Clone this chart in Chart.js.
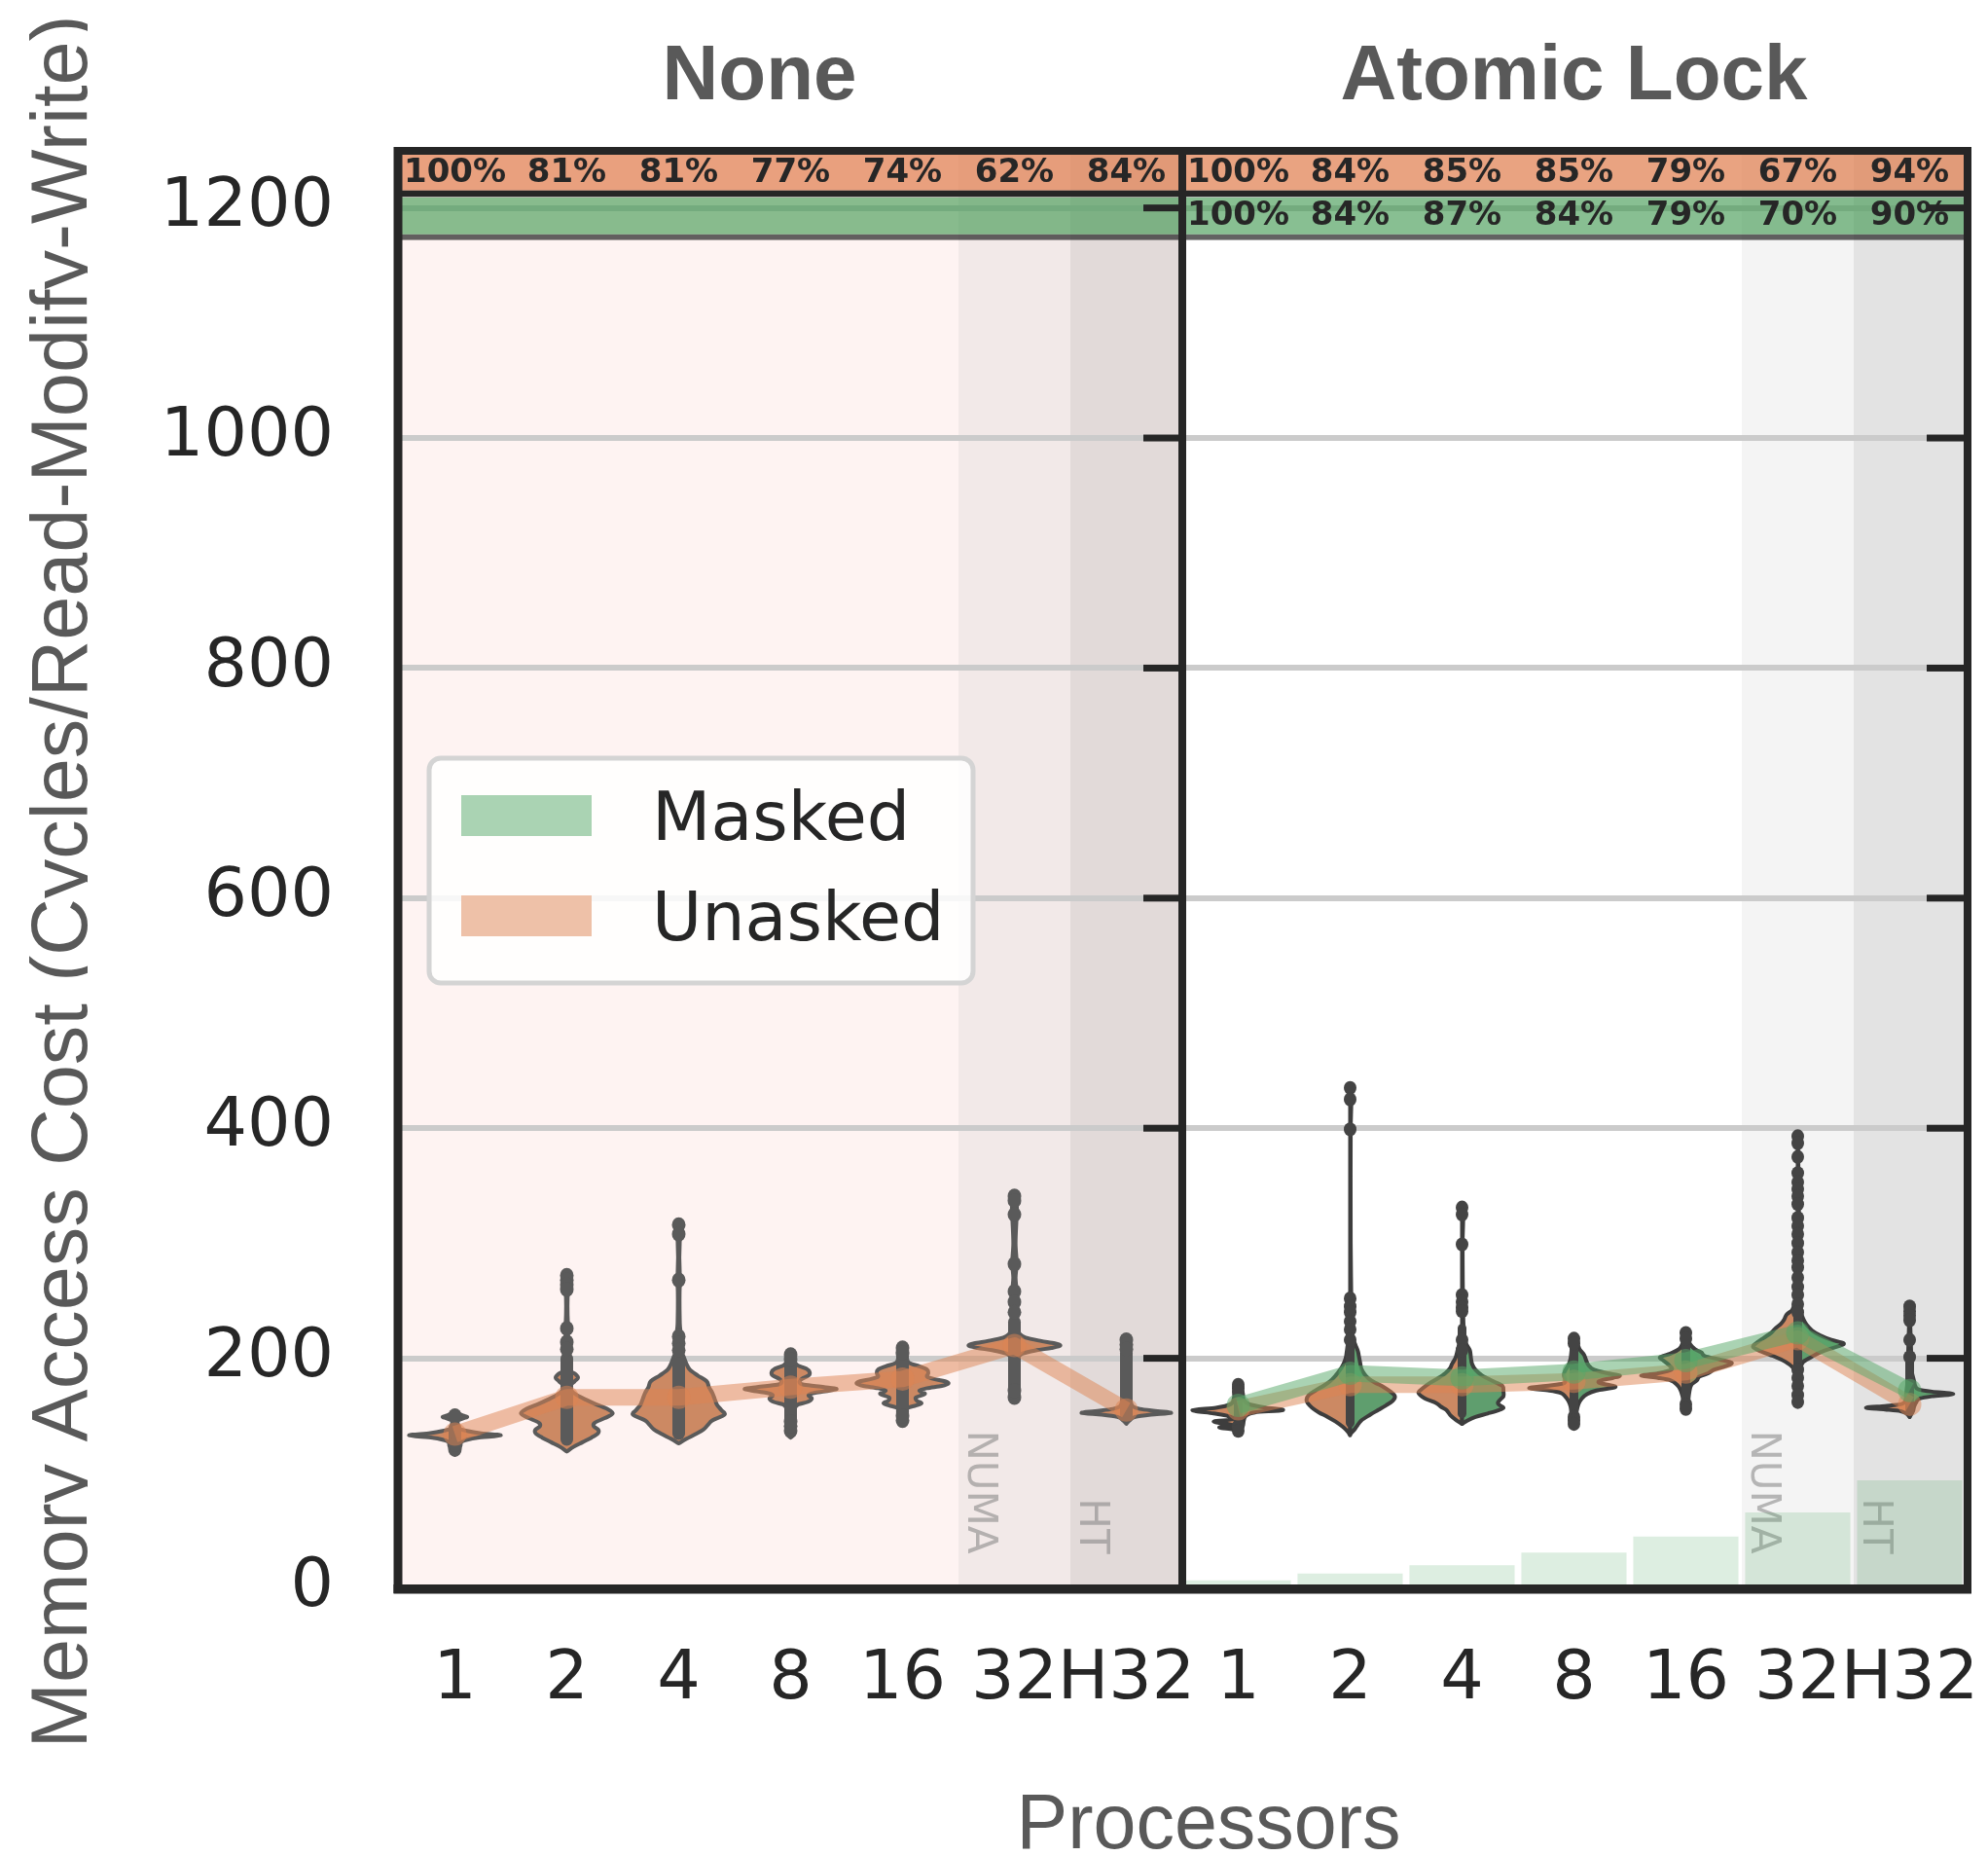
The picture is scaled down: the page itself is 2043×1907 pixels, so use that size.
<!DOCTYPE html>
<html><head><meta charset="utf-8">
<script src="https://cdn.jsdelivr.net/npm/chart.js@4.4.1/dist/chart.umd.min.js"></script>
<style>html,body{margin:0;padding:0;background:#ffffff;}#c{display:block;}</style>
</head><body>
<canvas id="c" width="2043" height="1907" style="width:2043px;height:1907px"></canvas>
<script>
// ---------------- DATA ----------------
const categories = ['1', '2', '4', '8', '16', '32', 'H32'];
const panelTitles = ['None', 'Atomic Lock'];
const regionLabels = ['', '', '', '', '', 'NUMA', 'HT'];
const yAxisTitle = 'Memory Access Cost (Cycles/Read-Modify-Write)';
const xAxisTitle = 'Processors';
const legendNames = ['Masked', 'Unasked'];

const noneUnmaskedPct = [100, 81, 81, 77, 74, 62, 84];
const lockUnmaskedPct = [100, 84, 85, 85, 79, 67, 94];
const lockMaskedPct   = [100, 84, 87, 84, 79, 70, 90];

const noneUnmaskedMean = [134, 166, 166, 175, 182, 211, 155];
const lockUnmaskedMean = [156, 177, 177, 180, 188, 217, 160];
const lockMaskedMean   = [159, 187, 183, 188, 198, 222, 172];

const lockBarValues = [7, 13, 20, 31, 45, 66, 94];

const unmaskedBandRange = [1209.5, 1253];
const maskedBandRange   = [1172, 1209.5];

// violin density profiles: [value, half-width as fraction of a category]
const noneUnmaskedViolins = [
  [[116,0],[119,.03],[124,.05],[128,.07],[131,.2],[133,.41],[135,.22],[138,.06],[141,.03],[146,.03],[148,.08],[149,.11],[150,.08],[152,.03],[153,0]],
  [[119,0],[123,.06],[127,.14],[131,.22],[135,.28],[138,.28],[141,.24],[144,.25],[148,.34],[152,.41],[156,.36],[160,.26],[164,.17],[168,.09],[172,.04],[176,.03],[180,.07],[183,.1],[186,.08],[189,.03],[195,.02],[205,.025],[212,.015],[222,.01],[226,.025],[230,.01],[258,.01],[264,.035],[270,.035],[276,0]],
  [[126,0],[130,.07],[134,.15],[138,.22],[142,.26],[146,.3],[151,.41],[155,.38],[160,.34],[165,.32],[170,.3],[175,.27],[180,.25],[185,.17],[190,.1],[195,.07],[200,.05],[205,.03],[210,.03],[215,.025],[220,.02],[230,.01],[264,.01],[268,.03],[272,.01],[304,.01],[308,.03],[312,.015],[316,0]],
  [[131,0],[134,.03],[140,.03],[146,.03],[152,.035],[157,.04],[160,.07],[162,.15],[165,.19],[168,.16],[170,.22],[172,.35],[173.5,.41],[175,.3],[177,.12],[179,.08],[182,.1],[185,.16],[188,.17],[191,.14],[194,.06],[198,.03],[204,0]],
  [[143,0],[147,.03],[153,.04],[157,.05],[159,.12],[161,.17],[163,.13],[166,.12],[169,.2],[172,.15],[174,.22],[176,.35],[178,.41],[180,.38],[182,.28],[184,.22],[187,.23],[190,.22],[193,.15],[196,.06],[200,.04],[205,.04],[211,0]],
  [[164,0],[168,.02],[175,.025],[185,.025],[195,.025],[200,.03],[204,.07],[207,.2],[209,.33],[211,.41],[213,.36],[215,.24],[218,.1],[221,.05],[225,.03],[232,.025],[240,.02],[250,.015],[258,.02],[270,.01],[282,.02],[300,.01],[325,.02],[337,.02],[341,0]],
  [[143,0],[146,.03],[149,.08],[151,.22],[152.5,.4],[154,.28],[156,.12],[158,.06],[162,.04],[170,.03],[180,.03],[195,.025],[210,.02],[219,0]]
];
const lockUnmaskedViolins = [
  [[134,0],[138,.05],[140,.17],[142,.05],[145,.22],[147,.05],[150,.1],[152,.22],[155,.41],[157,.2],[160,.07],[165,.04],[172,.03],[177,0]],
  [[133,0],[136,.02],[140,.06],[145,.13],[149,.2],[153,.28],[157,.34],[161,.38],[164,.39],[168,.37],[172,.31],[176,.24],[180,.18],[185,.13],[190,.09],[195,.06],[200,.04],[206,.03],[212,.02],[216,0]],
  [[143,0],[146,.05],[150,.1],[155,.14],[158,.19],[161,.23],[165,.33],[170,.39],[174,.35],[179,.28],[183,.21],[187,.15],[191,.11],[195,.09],[200,.06],[207,.04],[215,.02],[222,0]],
  [[142,0],[150,.02],[158,.03],[163,.05],[167,.08],[170,.12],[172,.22],[174,.4],[176,.25],[178,.1],[181,.08],[185,.09],[189,.08],[194,.05],[200,.03],[208,.02],[217,0]],
  [[154,0],[160,.02],[167,.03],[173,.05],[177,.08],[181,.14],[183,.25],[185,.4],[187,.25],[190,.13],[194,.15],[198,.2],[201,.23],[204,.14],[208,.06],[213,.03],[222,0]],
  [[160,0],[168,.02],[180,.02],[190,.03],[195,.08],[199,.15],[202,.22],[206,.33],[210,.4],[214,.36],[218,.3],[222,.24],[226,.2],[230,.15],[234,.12],[238,.1],[242,.05],[250,.02],[260,0]],
  [[149,0],[152,.03],[154,.08],[155.5,.22],[157,.39],[158.5,.22],[160,.08],[163,.04],[170,.03],[180,.02],[200,.015],[245,0]]
];
const lockMaskedViolins = [
  [[136,0],[141,.04],[146,.05],[150,.07],[153,.15],[155,.4],[157,.25],[160,.1],[164,.05],[170,.04],[177,0]],
  [[134,0],[137,.03],[141,.06],[146,.1],[151,.18],[155,.25],[159,.32],[163,.38],[167,.40],[171,.36],[175,.3],[179,.22],[182,.17],[186,.13],[191,.1],[196,.09],[201,.08],[206,.07],[211,.05],[216,.03],[222,.02],[232,.015],[245,.01],[252,.01],[300,.005],[400,.005],[425,.01],[435,0]],
  [[143,0],[146,.05],[149,.12],[152,.23],[155,.33],[157,.37],[159,.34],[161,.32],[164,.34],[167,.37],[171,.37],[176,.36],[180,.28],[185,.18],[190,.12],[195,.09],[200,.08],[207,.07],[212,.04],[218,.02],[240,.01],[300,.005],[325,.01],[331,0]],
  [[142,0],[152,.02],[160,.04],[165,.07],[169,.12],[172,.2],[175,.37],[177,.3],[179,.22],[181,.25],[183,.35],[185,.41],[187,.3],[190,.18],[194,.13],[198,.11],[203,.09],[208,.05],[213,.03],[217,0]],
  [[154,0],[162,.02],[170,.03],[177,.05],[181,.1],[184,.12],[187,.2],[190,.25],[193,.35],[196,.41],[199,.3],[202,.17],[205,.14],[208,.08],[212,.04],[217,.02],[222,0]],
  [[160,0],[170,.02],[185,.025],[193,.03],[197,.05],[201,.12],[205,.2],[208,.28],[211,.38],[213,.41],[216,.3],[220,.2],[224,.13],[229,.08],[234,.05],[240,.03],[260,.015],[300,.01],[340,.01],[370,.005],[393,0]],
  [[149,0],[154,.03],[158,.04],[162,.06],[165,.09],[167,.2],[169,.39],[171,.2],[173,.08],[176,.05],[180,.04],[188,.02],[200,.015],[245,0]]
];
// individual observations drawn as dots, and dense core ranges
const noneUnmaskedPoints = [
  [150,121,125], [272,268,264,260,226,214,208], [316,308,268,219,213,207],
  [203,199,137,141,145], [209,205,146,150], [341,337,325,282,258,249,240,166,172], [216,212,208]
];
const lockPoints = [
  [177,174,171,141,137], [435,425,399,252,245,240,232,225,216], [331,325,299,255,249,244,241,216,207],
  [217,213,149,146,143], [222,217,160,156],
  [393,387,375,361,353,347,341,334,322,315,308,300,292,285,279,270,262,255,247,240,190,183,176,168,162],
  [245,241,237,233,216,201]
];
const noneCoreRanges = [[118,145],[124,205],[129,202],[133,202],[145,209],[164,237],[145,210]];
const lockCoreRanges = [[139,168],[140,235],[148,230],[143,216],[155,220],[165,245],[150,205]];

// ---------------- STYLE ----------------
const INK = '#262626';
const GRAYTXT = '#595959';
const ORANGE_A = 'rgba(221,132,82,0.5)';
const GREEN_A = 'rgba(85,168,104,0.5)';
const VIOLIN_ORANGE = '#cc8963';
const VIOLIN_GREEN = '#5f9e6e';
const shadeColors = ['#fef3f2','#fef3f2','#fef3f2','#fef3f2','#fef3f2','#f2e9e8','#e2dad9',
                     '#ffffff','#ffffff','#ffffff','#ffffff','#ffffff','#f4f4f4','#e3e3e3'];

Chart.defaults.font.family = "'DejaVu Sans'";

const labels = categories.concat(categories);
const pad7 = Array(7).fill(null);

function catWidth(x) { return x.getPixelForValue(1) - x.getPixelForValue(0); }

function spline(ctx, pts, move) {
  const n = pts.length;
  if (move) ctx.moveTo(pts[0][0], pts[0][1]); else ctx.lineTo(pts[0][0], pts[0][1]);
  for (let i = 0; i < n - 1; i++) {
    const p0 = pts[Math.max(i - 1, 0)], p1 = pts[i], p2 = pts[i + 1], p3 = pts[Math.min(i + 2, n - 1)];
    const d01 = Math.abs(p1[1] - p0[1]) || 1e-6, d12 = Math.abs(p2[1] - p1[1]) || 1e-6, d23 = Math.abs(p3[1] - p2[1]) || 1e-6;
    const m1 = (p2[0] - p0[0]) / (d01 + d12), m2 = (p3[0] - p1[0]) / (d12 + d23);
    ctx.bezierCurveTo(p1[0] + m1 * d12 / 3, p1[1] + (p2[1] - p1[1]) / 3,
                      p2[0] - m2 * d12 / 3, p2[1] - (p2[1] - p1[1]) / 3,
                      p2[0], p2[1]);
  }
}

function drawViolinShape(ctx, cx, prof, dirs, w, y, fill, stroke) {
  ctx.beginPath();
  if (dirs.length === 2) {
    const right = prof.map(([v, f]) => [cx + f * w, y.getPixelForValue(v)]);
    const left = prof.slice().reverse().map(([v, f]) => [cx - f * w, y.getPixelForValue(v)]);
    spline(ctx, right, true);
    spline(ctx, left, false);
  } else {
    const side = prof.map(([v, f]) => [cx + dirs[0] * f * w, y.getPixelForValue(v)]);
    spline(ctx, side, true);
  }
  ctx.closePath();
  ctx.fillStyle = fill;
  ctx.fill();
  ctx.lineWidth = 4;
  ctx.lineJoin = 'round';
  ctx.strokeStyle = stroke;
  ctx.stroke();
}

function drawInner(ctx, cx, core, pts, y, color, coreW, r) {
  ctx.fillStyle = color;
  const top = y.getPixelForValue(core[1]), bot = y.getPixelForValue(core[0]);
  ctx.beginPath();
  ctx.roundRect(cx - coreW / 2, top, coreW, bot - top, coreW / 2);
  ctx.fill();
  pts.forEach(v => {
    ctx.beginPath();
    ctx.ellipse(cx, y.getPixelForValue(v), r, r * 1.1, 0, 0, Math.PI * 2);
    ctx.fill();
  });
}

const backgroundPlugin = {
  id: 'panelBackground',
  beforeDraw(chart) {
    const { ctx, chartArea: a, scales: { x } } = chart;
    const w = catWidth(x);
    ctx.save();
    for (let i = 0; i < labels.length; i++) {
      const cx = x.getPixelForValue(i);
      const l = Math.round(cx - w / 2), r = Math.round(cx + w / 2);
      ctx.fillStyle = shadeColors[i];
      ctx.fillRect(l, a.top, r - l, a.bottom - a.top);
    }
    ctx.restore();
  }
};

const violinPlugin = {
  id: 'violins',
  beforeDatasetsDraw(chart) {
    const { ctx, scales: { x, y } } = chart;
    const w = catWidth(x);
    ctx.save();
    // region labels
    ctx.font = "42px 'DejaVu Sans'";
    ctx.fillStyle = 'rgba(128,128,128,0.54)';
    ctx.textAlign = 'right';
    ctx.textBaseline = 'alphabetic';
    for (let p = 0; p < 2; p++) {
      regionLabels.forEach((t, i) => {
        if (!t) return;
        const cx = x.getPixelForValue(p * 7 + i);
        ctx.save();
        ctx.translate(cx - w / 2 + 10, y.getPixelForValue(30));
        ctx.rotate(Math.PI / 2);
        ctx.fillText(t, 0, 0);
        ctx.restore();
      });
    }
    // left panel: full violins
    noneUnmaskedViolins.forEach((prof, i) => {
      const cx = x.getPixelForValue(i);
      drawViolinShape(ctx, cx, prof, [1, -1], w, y, VIOLIN_ORANGE, '#5a5a5a');
      drawInner(ctx, cx, noneCoreRanges[i], noneUnmaskedPoints[i], y, '#5a5a5a', 13, 7);
    });
    // right panel: split violins
    lockUnmaskedViolins.forEach((prof, i) => {
      const cx = x.getPixelForValue(7 + i);
      drawViolinShape(ctx, cx, prof, [-1], w, y, VIOLIN_ORANGE, '#3d3d3d');
      drawViolinShape(ctx, cx, lockMaskedViolins[i], [1], w, y, VIOLIN_GREEN, '#3d3d3d');
      drawInner(ctx, cx, lockCoreRanges[i], lockPoints[i], y, '#444444', 9, 6.5);
    });
    ctx.restore();
  }
};

const decorPlugin = {
  id: 'decor',
  afterDatasetsDraw(chart) {
    const { ctx } = chart;
    ctx.save();
    ctx.font = "bold 34px 'DejaVu Sans'";
    ctx.fillStyle = INK;
    ctx.textAlign = 'center';
    ctx.textBaseline = 'middle';
    chart.data.datasets.forEach((ds, di) => {
      if (!ds.pct) return;
      const meta = chart.getDatasetMeta(di);
      const bw = ds.borderWidth;
      meta.data.forEach((el, i) => {
        const v = ds.pct[i];
        if (v === null || v === undefined) return;
        const top = Math.min(el.y, el.base), bot = Math.max(el.y, el.base);
        const cy = (top + bw.top + bot - bw.bottom) / 2;
        ctx.fillText(v + '%', el.x, cy + 1);
      });
    });
    ctx.restore();
  },
  afterDraw(chart) {
    const { ctx, chartArea: a, scales: { x, y } } = chart;
    const midX = (x.getPixelForValue(6) + x.getPixelForValue(7)) / 2;
    ctx.save();
    // inward right-side ticks of each panel
    ctx.fillStyle = INK;
    y.ticks.forEach(t => {
      if (t.value <= 0) return;
      const py = y.getPixelForValue(t.value);
      [midX, a.right].forEach(e => ctx.fillRect(e - 40, py - 3.5, 40, 7));
    });
    // spines
    ctx.fillRect(a.left - 5.5, a.top, 9, a.bottom - a.top + 5);
    ctx.fillRect(midX - 4, a.top, 8, a.bottom - a.top + 5);
    ctx.fillRect(a.right - 2, a.top, 8, a.bottom - a.top + 5);
    ctx.fillRect(a.left - 5.5, a.bottom - 4, a.right - a.left + 11.5, 9.5);

    // panel titles
    ctx.font = "bold 80px 'Liberation Sans'";
    ctx.fillStyle = GRAYTXT;
    ctx.textAlign = 'center';
    ctx.textBaseline = 'alphabetic';
    ctx.fillText(panelTitles[0], (a.left + midX) / 2 - 32, 102);
    ctx.fillText(panelTitles[1], (midX + a.right) / 2, 102);

    // x axis title
    ctx.font = "79px 'Liberation Sans'";
    ctx.fillText(xAxisTitle, (a.left + a.right) / 2 + 27, 1899);

    // y axis title (descenders clipped as in the original)
    ctx.save();
    ctx.beginPath();
    ctx.rect(0, 0, 90, chart.height);
    ctx.clip();
    ctx.translate(89, 906);
    ctx.rotate(-Math.PI / 2);
    ctx.font = "81px 'Liberation Sans'";
    ctx.textAlign = 'center';
    ctx.textBaseline = 'alphabetic';
    ctx.fillText(yAxisTitle, 0, 0);
    ctx.restore();

    // legend
    const lx = a.left + 31, ly = a.top + 628;
    ctx.beginPath();
    ctx.roundRect(lx, ly, 559, 231, 12);
    ctx.fillStyle = 'rgba(255,255,255,0.85)';
    ctx.fill();
    ctx.lineWidth = 5;
    ctx.strokeStyle = '#d4d4d4';
    ctx.stroke();
    const legendColors = [GREEN_A, ORANGE_A];
    ctx.font = "70px 'DejaVu Sans'";
    ctx.textAlign = 'left';
    legendNames.forEach((name, k) => {
      const top = ly + 38 + k * 103;
      ctx.fillStyle = '#ffffff';
      ctx.fillRect(lx + 33, top, 134, 42);
      ctx.fillStyle = legendColors[k];
      ctx.fillRect(lx + 33, top, 134, 42);
      ctx.fillStyle = INK;
      ctx.fillText(name, lx + 229, top + 46);
    });
    ctx.restore();
  }
};

const lineCommon = {
  type: 'line', borderWidth: 17, pointRadius: 12, pointHoverRadius: 12, pointBorderWidth: 0,
  borderJoinStyle: 'round', spanGaps: false, tension: 0, fill: false
};
const bandCommon = {
  type: 'bar', grouped: false, barPercentage: 1, categoryPercentage: 1, borderSkipped: false, inflateAmount: 0
};

new Chart(document.getElementById('c'), {
  type: 'bar',
  data: {
    labels,
    datasets: [
      Object.assign({}, lineCommon, { label: 'Masked', data: pad7.concat(lockMaskedMean),
        borderColor: GREEN_A, backgroundColor: GREEN_A, pointBackgroundColor: GREEN_A, order: 0 }),
      Object.assign({}, lineCommon, { label: 'Unasked', data: noneUnmaskedMean.concat(pad7),
        borderColor: ORANGE_A, backgroundColor: ORANGE_A, pointBackgroundColor: ORANGE_A, order: 0.5 }),
      Object.assign({}, lineCommon, { label: 'Unasked (Atomic Lock)', data: pad7.concat(lockUnmaskedMean),
        borderColor: ORANGE_A, backgroundColor: ORANGE_A, pointBackgroundColor: ORANGE_A, order: 0.5 }),
      Object.assign({}, bandCommon, { label: 'Unasked share', data: labels.map(() => unmaskedBandRange),
        pct: noneUnmaskedPct.concat(lockUnmaskedPct),
        backgroundColor: 'rgba(224,128,80,0.72)', borderColor: INK,
        borderWidth: { top: 8, bottom: 7, left: 0, right: 0 }, order: 1 }),
      Object.assign({}, bandCommon, { label: 'Masked share', data: labels.map(() => maskedBandRange),
        pct: pad7.concat(lockMaskedPct),
        backgroundColor: 'rgba(63,152,79,0.62)', borderColor: 'rgba(38,38,38,0.72)',
        borderWidth: { top: 0, bottom: 6, left: 0, right: 0 }, order: 1 }),
      { type: 'bar', label: 'Masked count', data: pad7.concat(lockBarValues), grouped: false,
        barPercentage: 0.94, categoryPercentage: 1, backgroundColor: 'rgba(85,168,104,0.2)', order: 2 }
    ]
  },
  options: {
    responsive: false,
    animation: false,
    events: [],
    layout: { padding: { top: 151, right: 23, bottom: 0, left: 0 } },
    plugins: { legend: { display: false }, tooltip: { enabled: false } },
    scales: {
      x: {
        offset: true,
        grid: { display: false, drawTicks: false },
        border: { display: false },
        ticks: { autoSkip: false, maxRotation: 0, minRotation: 0, padding: 53, color: INK,
                 font: { size: 70, family: "'DejaVu Sans'" } },
        afterFit(s) { s.height = 275; s.paddingLeft = 0; s.paddingRight = 0; }
      },
      y: {
        min: 0, max: 1253,
        grid: { color: '#cbcbcb', lineWidth: 6, drawTicks: false },
        border: { display: false },
        ticks: { stepSize: 200, includeBounds: false, padding: 67, color: INK,
                 font: { size: 70, family: "'DejaVu Sans'" },
                 callback: (v) => String(v) },
        afterFit(s) { s.width = 410; s.paddingTop = 0; s.paddingBottom = 0; }
      }
    }
  },
  plugins: [backgroundPlugin, violinPlugin, decorPlugin]
});
</script>
</body></html>
